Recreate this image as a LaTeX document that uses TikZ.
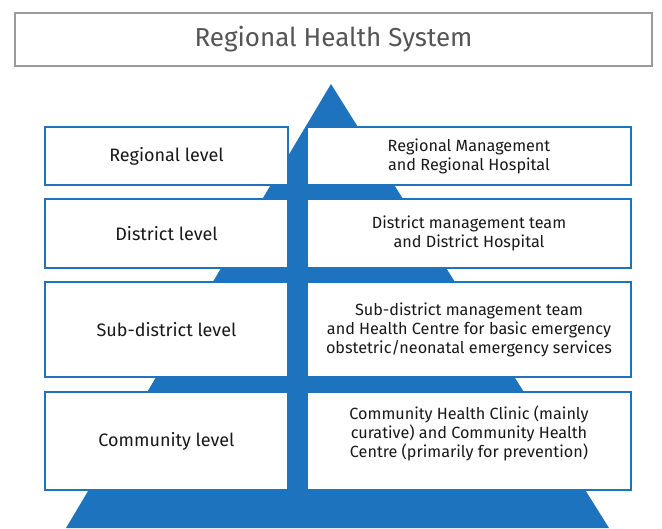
\documentclass[tikz,border=0pt]{standalone}
\usepackage{fontspec}
\setmainfont{Fira Sans}
\definecolor{pblue}{HTML}{1E73BE}
\definecolor{tgray}{HTML}{555555}
\definecolor{bgray}{HTML}{9A9A9A}
\begin{document}
\begin{tikzpicture}[x=1pt,y=-1pt,
  lvlbox/.style={draw=pblue,line width=2pt,fill=white,inner sep=0pt,align=center,
    font=\fontsize{18}{21}\selectfont,text=black!90},
  descbox/.style={draw=pblue,line width=2pt,fill=white,inner sep=0pt,align=center,
    font=\fontsize{16.2}{19}\selectfont,text=black!90}]
\useasboundingbox (0,0) rectangle (662,528);
\fill[white] (0,0) rectangle (662,528);
% title
\node[draw=bgray,line width=2pt,fill=white,minimum width=637pt,minimum height=53pt,
  font=\fontsize{26}{30}\selectfont,text=tgray] (title) at (333.5,39.5) {Regional Health System};
% pyramid
\fill[pblue] (331,84) -- (609,528) -- (66,528) -- cycle;
% rows
\node[lvlbox,minimum width=243pt,minimum height=58pt] (l1) at (166.5,156) {Regional level};
\node[descbox,minimum width=324pt,minimum height=58pt] (r1) at (469,156) {Regional Management\\and Regional Hospital};
\node[lvlbox,minimum width=243pt,minimum height=69pt] (l2) at (166.5,233.5) {District level};
\node[descbox,minimum width=324pt,minimum height=69pt] (r2) at (469,233.5) {District management team\\and District Hospital};
\node[lvlbox,minimum width=243pt,minimum height=95pt] (l3) at (166.5,329.5) {Sub-district level};
\node[descbox,minimum width=324pt,minimum height=95pt] (r3) at (469,329.5) {Sub-district management team\\and Health Centre for basic emergency\\obstetric/neonatal emergency services};
\node[lvlbox,minimum width=243pt,minimum height=98pt] (l4) at (166.5,441) {Community level};
\node[descbox,minimum width=324pt,minimum height=98pt] (r4) at (469,441) {};
\node[descbox,draw=none,fill=none] (r4t) at (469,433) {Community Health Clinic (mainly\\curative) and Community Health\\Centre (primarily for prevention)};
\end{tikzpicture}
\end{document}
